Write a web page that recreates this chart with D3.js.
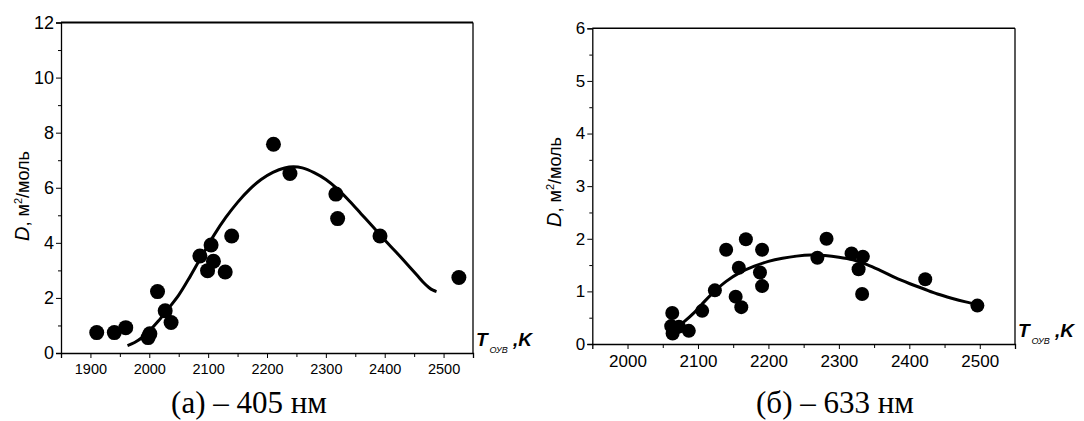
<!DOCTYPE html>
<html><head><meta charset="utf-8">
<script src="https://cdn.jsdelivr.net/npm/d3@7"></script>
<style>body{margin:0;background:#fff}svg{display:block}</style>
</head><body>
<svg id="c" width="1084" height="421"></svg>
<script>
// ---- Panel (a) 405 nm ----
const aPointsT = [1910.7,1940.6,1960,1998,2001,2014,2027,2037,2086,2105,2109,2099,2129,2140,2211,2239,2317,2320,2392,2526];
const aPointsD = [0.74,0.74,0.92,0.56,0.70,2.23,1.53,1.11,3.52,3.92,3.33,2.99,2.94,4.25,7.58,6.52,5.77,4.88,4.25,2.74];
const aCurveT = [1963,1975,1990,2000,2015,2030,2050,2070,2090,2110,2130,2150,2170,2190,2210,2230,2245,2260,2280,2300,2320,2340,2360,2380,2400,2420,2440,2455,2465,2475,2482,2488];
const aCurveD = [0.27,0.38,0.6,0.8,1.15,1.55,2.1,2.8,3.55,4.28,4.92,5.47,5.93,6.3,6.56,6.72,6.76,6.72,6.55,6.3,5.95,5.52,5.05,4.58,4.1,3.65,3.18,2.82,2.58,2.38,2.28,2.23];
const aXTicks = [1900,2000,2100,2200,2300,2400,2500];
const aYTicks = [0,2,4,6,8,10,12];
// ---- Panel (б) 633 nm ----
const bPointsT = [2063.5,2062,2064,2073,2087,2106,2124,2140,2168,2191,2158,2188,2191,2153.5,2161.5,2269.5,2282.5,2318,2334,2328,2333,2422.6,2496.6];
const bPointsD = [0.59,0.34,0.20,0.33,0.25,0.63,1.02,1.79,1.99,1.79,1.45,1.36,1.10,0.90,0.70,1.64,2.00,1.72,1.66,1.42,0.95,1.23,0.73];
const bCurveT = [2068,2080,2095,2110,2125,2140,2160,2180,2200,2220,2240,2260,2280,2300,2320,2340,2360,2380,2400,2420,2440,2460,2480,2497];
const bCurveD = [0.3,0.42,0.6,0.82,1.02,1.19,1.36,1.48,1.57,1.63,1.67,1.69,1.68,1.65,1.6,1.51,1.39,1.26,1.15,1.05,0.95,0.87,0.80,0.75];
const bXTicks = [2000,2100,2200,2300,2400,2500];
const bYTicks = [0,1,2,3,4,5,6];

const yLabel = ["D", ", м", "2", "/моль"];
const xLabel = ["T", "ОУВ", "\u00a0,K"];
const captions = ["(а) – 405 нм", "(б) – 633 нм"];

const svg = d3.select("#c");

function panel(o){
  const g = svg.append("g");
  const x = d3.scaleLinear().domain(o.xDom).range([o.x0,o.x1]);
  const y = d3.scaleLinear().domain(o.yDom).range([o.y0,o.y1]);
  g.append("line").attr("x1",o.x0).attr("x2",o.x1).attr("y1",o.y1).attr("y2",o.y1).attr("stroke","#000").attr("stroke-width",o.topW);
  g.append("line").attr("x1",o.x1).attr("x2",o.x1).attr("y1",o.y1).attr("y2",o.y0).attr("stroke","#000").attr("stroke-width",1.3);
  const ya = d3.axisLeft(y).tickValues(o.yTicks).tickSize(5).tickPadding(2).tickFormat(d3.format("d"));
  const yg = g.append("g").attr("transform",`translate(${o.x0},0)`).call(ya);
  yg.select(".domain").attr("stroke-width",1.3);
  yg.selectAll("text").attr("font-family","Liberation Sans, Arial").attr("font-size",o.yFs).attr("fill","#000");
  const ym = d3.axisLeft(y).tickValues(o.yMinor).tickSize(3).tickFormat("");
  g.append("g").attr("transform",`translate(${o.x0},0)`).call(ym).select(".domain").remove();
  const xa = d3.axisBottom(x).tickValues(o.xTicks).tickSize(5).tickPadding(o.xPad).tickFormat(d3.format("d"));
  const xg = g.append("g").attr("transform",`translate(0,${o.y0})`).call(xa);
  xg.select(".domain").attr("stroke-width",1.3);
  xg.selectAll("text").attr("font-family","Liberation Sans, Arial").attr("font-size",o.xFs).attr("fill","#000");
  const xm = d3.axisBottom(x).tickValues(o.xMinor).tickSize(4).tickFormat("");
  g.append("g").attr("transform",`translate(0,${o.y0})`).call(xm).select(".domain").remove();
  const pts = o.cT.map((t,i)=>[t,o.cD[i]]);
  g.append("path").datum(pts)
    .attr("d", d3.line().x(d=>x(d[0])).y(d=>y(d[1])).curve(d3.curveCatmullRom.alpha(0.5)))
    .attr("fill","none").attr("stroke","#000").attr("stroke-width",3);
  g.selectAll("circle.p").data(o.pT.map((t,i)=>[t,o.pD[i]])).join("circle")
    .attr("cx",d=>x(d[0])).attr("cy",d=>y(d[1])).attr("r",o.r).attr("fill","#000");
  const yl = g.append("text").attr("transform",`translate(${o.ylx},${o.yly}) rotate(-90)`)
    .attr("text-anchor","middle").attr("font-family","Liberation Sans, Arial").attr("font-size",18).attr("fill","#000");
  yl.append("tspan").attr("font-style","italic").attr("font-size",20).text(yLabel[0]);
  yl.append("tspan").text(yLabel[1]);
  yl.append("tspan").attr("font-size",11).attr("dy",-7).text(yLabel[2]);
  yl.append("tspan").attr("dy",7).text(yLabel[3]);
  const xl = g.append("text").attr("x",o.xlx).attr("y",o.xly)
    .attr("font-family","Liberation Sans, Arial").attr("font-weight","bold").attr("font-style","italic").attr("fill","#000");
  xl.append("tspan").attr("font-size",19).text(xLabel[0]);
  xl.append("tspan").attr("font-size",9).attr("font-weight","normal").attr("dy",7).attr("dx",2).text(xLabel[1]);
  xl.append("tspan").attr("font-size",19).attr("dy",-7).text(xLabel[2]);
  g.append("text").attr("x",o.capX).attr("y",413).attr("text-anchor","middle")
    .attr("font-family","Liberation Serif, Times New Roman").attr("font-size",31).attr("fill","#000").text(o.cap);
}

panel({xDom:[1850,2550], yDom:[0,12], x0:61, x1:473, y0:353, y1:22.5, topW:2,
  yTicks:aYTicks, yMinor:[1,3,5,7,9,11], xTicks:aXTicks, xMinor:[1950,2050,2150,2250,2350,2450],
  yFs:18, xFs:14.5, xPad:6, cT:aCurveT, cD:aCurveD, pT:aPointsT, pD:aPointsD, r:7.5,
  ylx:29, yly:196, xlx:476, xly:346, capX:249, cap:captions[0]});

panel({xDom:[1950,2550], yDom:[0,6], x0:592.3, x1:1015, y0:344, y1:28.3, topW:1.5,
  yTicks:bYTicks, yMinor:[0.5,1.5,2.5,3.5,4.5,5.5], xTicks:bXTicks, xMinor:[2050,2150,2250,2350,2450],
  yFs:17, xFs:17, xPad:6, cT:bCurveT, cD:bCurveD, pT:bPointsT, pD:bPointsD, r:7,
  ylx:561, yly:182, xlx:1018, xly:337, capX:835, cap:captions[1]});
</script>
</body></html>
